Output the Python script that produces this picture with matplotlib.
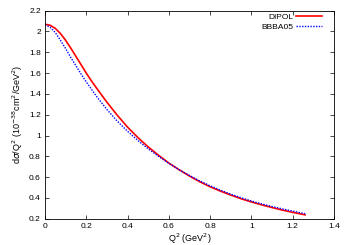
import matplotlib
matplotlib.use("Agg")
import matplotlib.pyplot as plt

q2 = [0.0, 0.025, 0.05, 0.075, 0.1, 0.125, 0.15, 0.175, 0.2, 0.225, 0.25, 0.3, 0.35, 0.4, 0.45,
      0.5, 0.55, 0.6, 0.65, 0.7, 0.75, 0.8, 0.85, 0.9, 0.95, 1.0, 1.05, 1.1, 1.15, 1.2, 1.26]
dipol = [2.07, 2.06, 2.03, 1.98, 1.915, 1.84, 1.76, 1.68, 1.60, 1.525, 1.455, 1.32, 1.195, 1.08, 0.98,
         0.89, 0.81, 0.735, 0.67, 0.61, 0.555, 0.507, 0.465, 0.427, 0.392, 0.361, 0.333, 0.307,
         0.283, 0.261, 0.237]
bbba05 = [2.065, 2.04, 1.99, 1.915, 1.835, 1.75, 1.67, 1.59, 1.515, 1.445, 1.375, 1.25, 1.138, 1.04,
          0.952, 0.872, 0.80, 0.733, 0.671, 0.615, 0.563, 0.516, 0.474, 0.436, 0.401, 0.37, 0.342,
          0.317, 0.294, 0.273, 0.248]
xticks = [0, 0.2, 0.4, 0.6, 0.8, 1, 1.2, 1.4]
yticks = [0.2, 0.4, 0.6, 0.8, 1, 1.2, 1.4, 1.6, 1.8, 2, 2.2]

plt.rcParams['font.family'] = ['Liberation Sans', 'DejaVu Sans']
fig = plt.figure(figsize=(3.5, 2.45), dpi=100)
ax = fig.add_axes([45/350, 1-218.7/245, 289/350, 208/245])
ax.plot(q2, dipol, color='#ff0000', lw=1.2, label='DIPOL')
ax.plot(q2, bbba05, color='#0000ff', lw=1.0, ls=(0, (1, 1)), label='BBBA05')
ax.set_xlim(0, 1.4)
ax.set_ylim(0.2, 2.2)
ax.set_xticks(xticks)
ax.set_xticklabels([f"{t:g}" for t in xticks])
ax.set_yticks(yticks)
ax.set_yticklabels([f"{t:g}" for t in yticks])
ax.tick_params(direction='in', top=True, right=True, labelsize=6, length=3, width=0.5, pad=3)
for s in ax.spines.values():
    s.set_linewidth(0.6)
ax.set_xlabel('Q$^2$ (GeV$^2$)', fontsize=6.5, labelpad=1)
ax.set_ylabel('d$\\sigma$/Q$^2$ (10$^{-38}$cm$^2$/GeV$^2$)', fontsize=6.5, labelpad=3)
leg = ax.legend(loc='upper right', bbox_to_anchor=(1 - 6/289, 1 + 3/208), fontsize=6,
                frameon=False, markerfirst=False, handlelength=3.1, borderaxespad=0.3,
                labelspacing=0.2, handletextpad=0.4)
fig.savefig('out.png', dpi=100)
